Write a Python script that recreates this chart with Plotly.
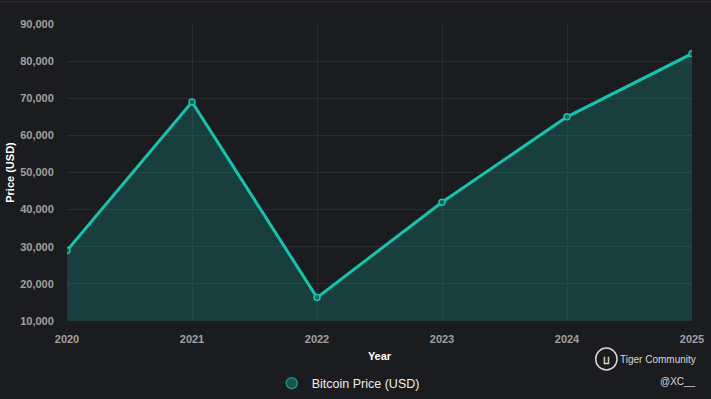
import plotly.graph_objects as go

years = ["2020", "2021", "2022", "2023", "2024", "2025"]
prices = [29000, 69000, 16300, 42000, 65000, 82000]
y_ticks = [10000, 20000, 30000, 40000, 50000, 60000, 70000, 80000, 90000]
series_name = "Bitcoin Price (USD)"

BG = "#1b1c20"
TEAL = "#17c3ac"

fig = go.Figure()
fig.add_trace(go.Scatter(
    x=years, y=prices, name=series_name, mode="lines+markers", showlegend=False,
    line=dict(color=TEAL, width=3),
    marker=dict(size=6, color="#15605a", line=dict(color=TEAL, width=1.5)),
    fill="tozeroy", fillcolor="rgba(20,150,140,0.28)",
))
# legend entry (marker only)
fig.add_trace(go.Scatter(
    x=[None], y=[None], name=series_name, mode="markers", showlegend=True,
    marker=dict(size=11, color="#17524d", line=dict(color="#1a8f83", width=1.5)),
))

fig.update_layout(
    width=711, height=399,
    paper_bgcolor=BG, plot_bgcolor=BG,
    margin=dict(l=67, r=19, t=24, b=78, autoexpand=False),
    font=dict(family="Liberation Sans, Arial, sans-serif", color="#9a9a9a", size=11),
    showlegend=True,
    legend=dict(orientation="h", x=0.45, xanchor="center", y=-0.16, yanchor="top",
                font=dict(color="#ececec", size=12.5, family="Liberation Sans, Arial, sans-serif")),
    xaxis=dict(
        type="category", range=[0, 5], showgrid=True, gridcolor="#2a2b30", zeroline=False,
        automargin=False,
        title=dict(text="<b>Year</b>", font=dict(color="#ffffff", size=11), standoff=8),
        tickfont=dict(color="#a0a0a0", size=11, weight="bold"),
        ticks="outside", ticklen=8, tickcolor=BG, showline=False,
    ),
    yaxis=dict(
        range=[10000, 90000], tickvals=y_ticks, tickformat=",", showgrid=True,
        gridcolor="#2a2b30", zeroline=False, automargin=False,
        title=dict(text="<b>Price (USD)</b>", font=dict(color="#ffffff", size=11), standoff=3),
        tickfont=dict(color="#a0a0a0", size=11, weight="bold"),
        ticks="outside", ticklen=10, tickcolor=BG,
    ),
)

# top border line
fig.add_shape(type="line", xref="paper", yref="paper", x0=-0.2, x1=1.03, y0=1.075, y1=1.075,
              line=dict(color="#2e2f34", width=1))

# watermark logo
fig.add_shape(type="circle", xref="paper", yref="paper",
              x0=0.846, x1=0.880, y0=-0.165, y1=-0.091,
              line=dict(color="#d8d8d8", width=1.5))
fig.add_annotation(text="<b>ⵡ</b>", xref="paper", yref="paper", x=0.863, y=-0.134,
                   xanchor="center", yanchor="middle", showarrow=False,
                   font=dict(color="#d8d8d8", size=9))
fig.add_annotation(text="Tiger Community", xref="paper", yref="paper", x=1.01, y=-0.128,
                   xanchor="right", yanchor="middle", showarrow=False,
                   font=dict(color="#d8d8d8", size=10))
fig.add_annotation(text="@XC__", xref="paper", yref="paper", x=1.01, y=-0.205,
                   xanchor="right", yanchor="middle", showarrow=False,
                   font=dict(color="#d8d8d8", size=10))

fig.write_html("out.html", config={"displayModeBar": False},
               post_script="document.body.style.margin='0';document.body.style.background='%s';" % BG)
